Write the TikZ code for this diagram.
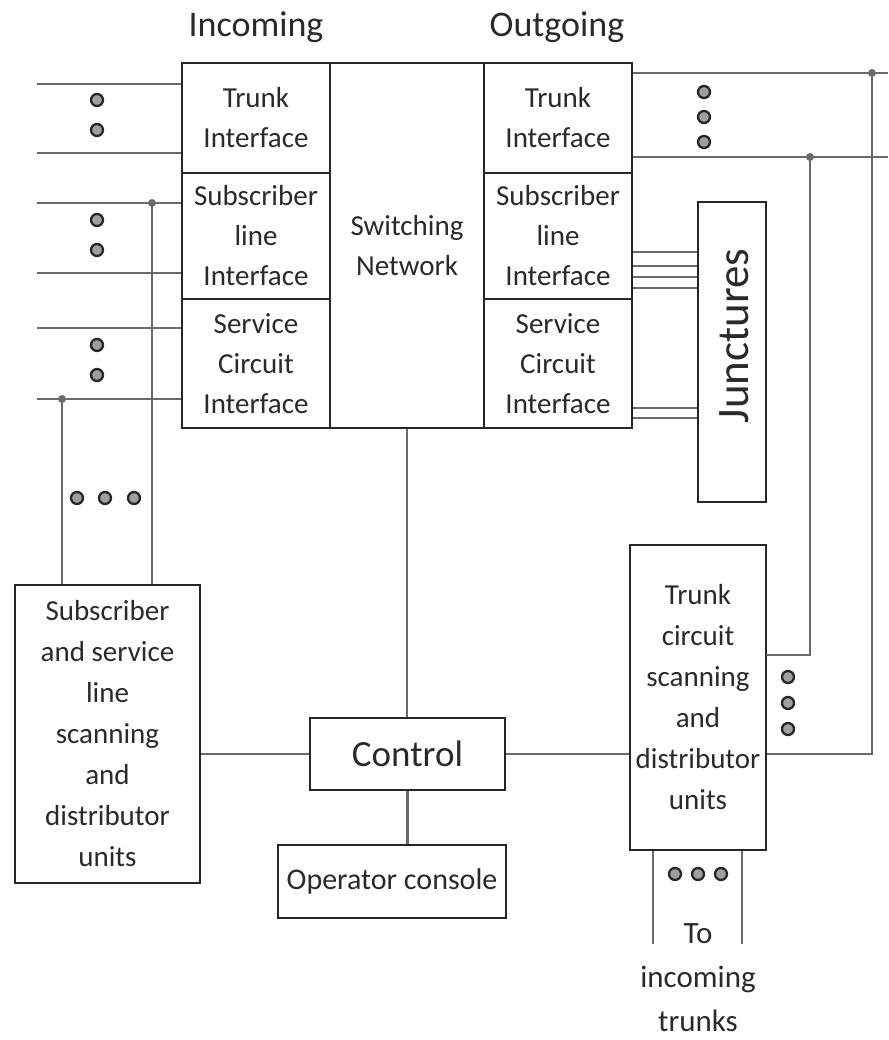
\documentclass[tikz,border=0pt]{standalone}
\usepackage{fontspec}
\setmainfont{Carlito}
\usetikzlibrary{positioning,calc}
\definecolor{boxline}{HTML}{262626}
\definecolor{wireline}{HTML}{6A6A6A}
\definecolor{txtcol}{HTML}{2A2A2A}

\begin{document}
\begin{tikzpicture}[
    x=1pt,y=-1pt,
    blk/.style  = {rectangle,draw=boxline,line width=2.9pt,inner sep=0pt,
                   align=center,text=txtcol,font=\fontsize{29}{40}\selectfont},
    wire/.style = {draw=wireline,line width=2.3pt},
    jdot/.style = {circle,fill=wireline,inner sep=0pt,minimum size=8pt},
    edot/.style = {circle,draw=boxline,fill=gray!75,line width=2.3pt,
                   inner sep=0pt,minimum size=12pt},
    hdr/.style  = {text=txtcol,font=\fontsize{36}{40}\selectfont},
  ]
  \useasboundingbox (0,0) rectangle (888,1040);

  % headers
  \node[hdr] (hin)  at (256,27) {Incoming};
  \node[hdr] (hout) at (557,27) {Outgoing};

  % switching block
  \node[blk,minimum width=148pt,minimum height=110pt] (inTI)  at (256,118)   {Trunk\\Interface};
  \node[blk,minimum width=148pt,minimum height=126pt] (inSL)  at (256,236)   {Subscriber\\line\\Interface};
  \node[blk,minimum width=148pt,minimum height=129pt] (inSC)  at (256,363.5) {Service\\Circuit\\Interface};
  \node[blk,minimum width=154pt,minimum height=365pt] (sw)    at (407,245.5) {Switching\\Network};
  \node[blk,minimum width=148pt,minimum height=110pt] (outTI) at (558,118)   {Trunk\\Interface};
  \node[blk,minimum width=148pt,minimum height=126pt] (outSL) at (558,236)   {Subscriber\\line\\Interface};
  \node[blk,minimum width=148pt,minimum height=129pt] (outSC) at (558,363.5) {Service\\Circuit\\Interface};

  \node[blk,minimum width=68pt,minimum height=300pt] (junc) at (732,352) {};
  \node[text=txtcol,font=\fontsize{45}{46}\selectfont,rotate=90] (junctxt) at (734,336) {Junctures};

  % scanning, control
  \node[blk,minimum width=185pt,minimum height=298pt,font=\fontsize{29}{41}\selectfont] (subs) at (107.5,734)
       {Subscriber\\and service\\line\\scanning\\and\\distributor\\units};
  \node[blk,minimum width=195pt,minimum height=72pt,font=\fontsize{37}{40}\selectfont] (ctrl) at (407.5,754) {Control};
  \node[blk,minimum width=228pt,minimum height=73pt,font=\fontsize{30}{36}\selectfont] (opc)  at (392,881.5) {Operator console};
  \node[blk,minimum width=136pt,minimum height=305pt,font=\fontsize{29}{41}\selectfont] (trk)  at (698,697.5)
       {Trunk\\circuit\\scanning\\and\\distributor\\units};
  \node[text=txtcol,align=center,font=\fontsize{31}{44}\selectfont] (totr) at (698,978) {To\\incoming\\trunks};

  % incoming lines
  \foreach \n/\y in {l1/84,l2/153,l3/203,l4/273,l5/328,l6/399}
    \coordinate (\n) at (37,\y);
  \foreach \n in {l1,l2,l3,l4,l5,l6}
    \draw[wire] (\n) -- (\n -| inTI.west);
  \node[jdot] (ja) at (152,203) {};
  \node[jdot] (jb) at (62,399) {};
  \draw[wire] (ja) -- (ja |- subs.north);
  \draw[wire] (jb) -- (jb |- subs.north);

  % outgoing trunks
  \coordinate (r1) at (888,73);
  \coordinate (r2) at (888,157);
  \draw[wire] (outTI.east |- r1) -- (r1);
  \draw[wire] (outTI.east |- r2) -- (r2);
  \node[jdot] (jc) at (872,73) {};
  \node[jdot] (jd) at (810,157) {};
  \coordinate (tka) at (766,655);
  \draw[wire] (jc) |- (trk.east |- ctrl.east);
  \draw[wire] (jd) |- (tka);

  % junctures
  \foreach \d in {16,30,41,52}
    \draw[wire,line width=1.8pt] ($(outSL.east)+(0,\d)$) -- ($(junc.west |- outSL.east)+(0,\d)$);
  \foreach \d in {44.5,54.5}
    \draw[wire,line width=1.8pt] ($(outSC.east)+(0,\d)$) -- ($(junc.west |- outSC.east)+(0,\d)$);

  % control links
  \draw[wire] (sw.south) -- (sw.south |- ctrl.north);
  \draw[wire] (ctrl.south) -- (ctrl.south |- opc.north);
  \draw[wire] (ctrl.west) -- (ctrl.west -| subs.east);
  \draw[wire] (ctrl.east) -- (ctrl.east -| trk.west);
  \draw[wire] ($(trk.south)+(-45,0)$) -- ++(0,93);
  \draw[wire] ($(trk.south)+(44,0)$) -- ++(0,93);

  % dots
  \foreach \y [count=\i] in {100,130,220,250,345,375}
    \node[edot] (dl\i) at (97,\y) {};
  \foreach \x [count=\i] in {77,105,134}
    \node[edot] (db\i) at (\x,498) {};
  \foreach \y [count=\i] in {92,117,142}
    \node[edot] (dt\i) at (704,\y) {};
  \foreach \y [count=\i] in {677,703,729}
    \node[edot] (dr\i) at (788,\y) {};
  \foreach \x [count=\i] in {675,698,721}
    \node[edot] (dk\i) at (\x,874) {};

\end{tikzpicture}
\end{document}
